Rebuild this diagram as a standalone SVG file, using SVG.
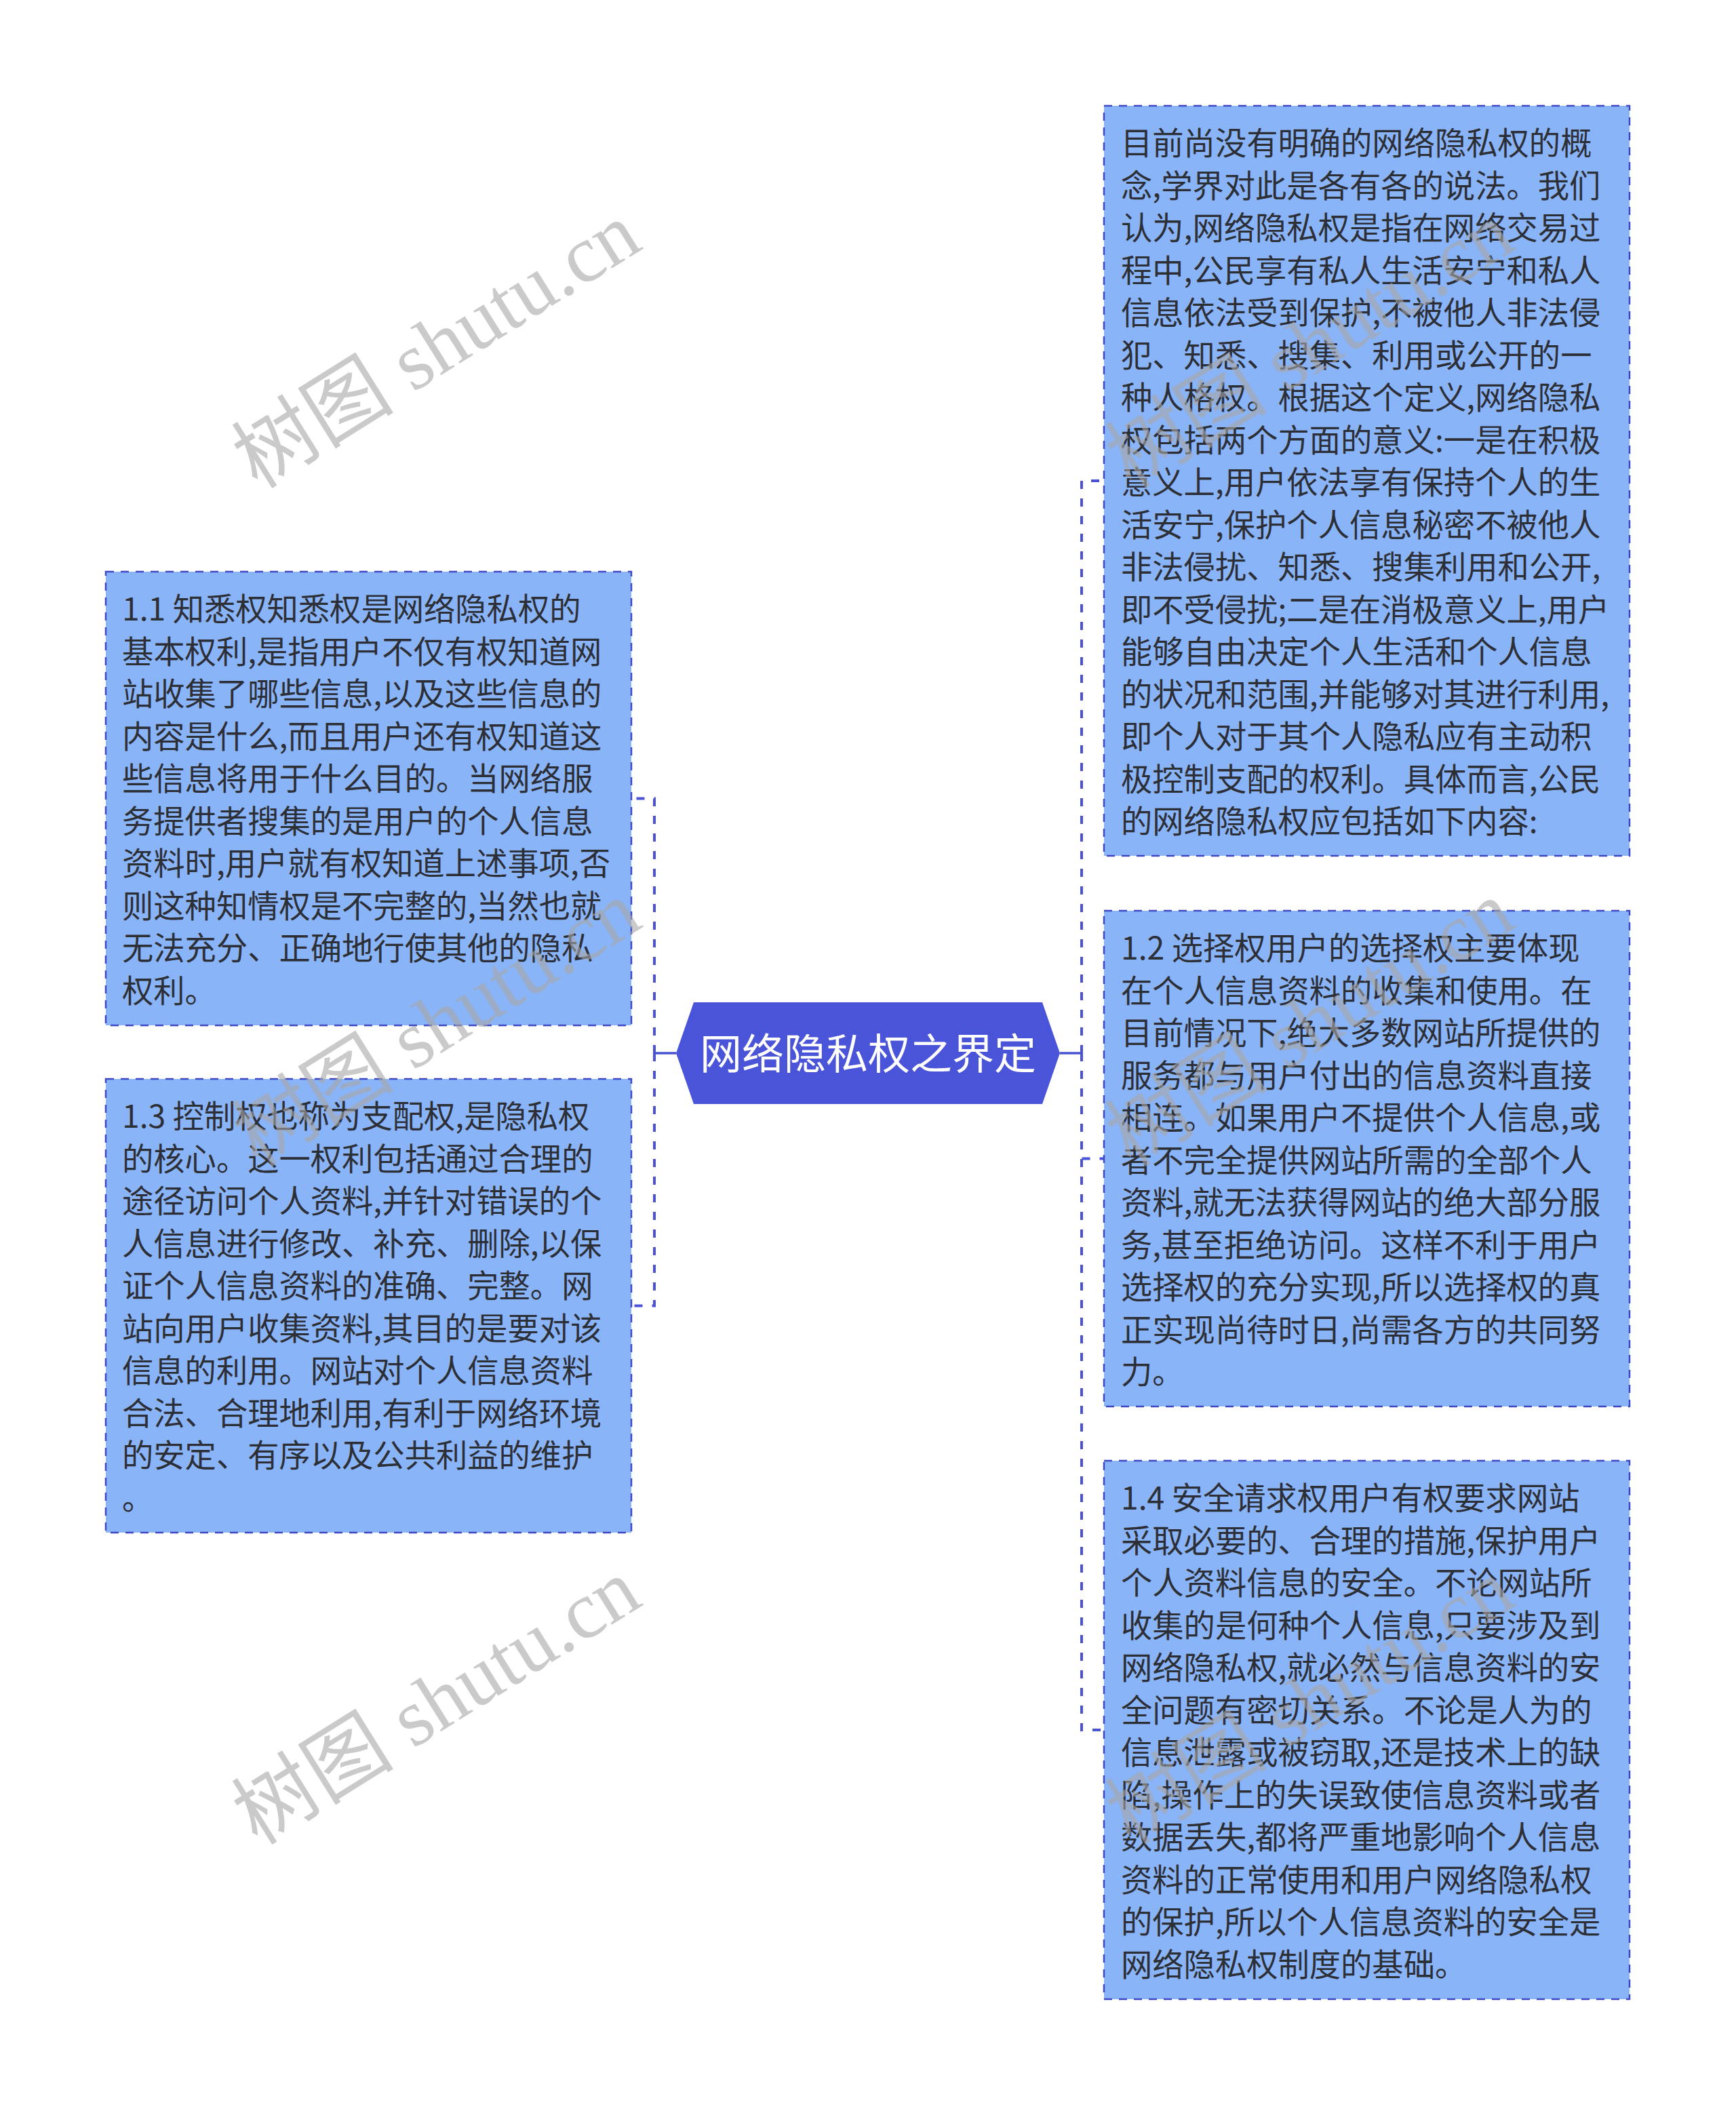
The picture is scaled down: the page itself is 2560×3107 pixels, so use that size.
<svg xmlns="http://www.w3.org/2000/svg" width="2560" height="3107" viewBox="0 0 2560 3107">
<style>
.box{fill:#8ab4f8;stroke:#3d48c2;stroke-width:2.5;stroke-dasharray:12 10}
.txt{font-family:"Noto Sans CJK SC","Noto Sans",sans-serif;font-size:46.3px;fill:#2d2f36}
.conn{fill:none;stroke:#4a52d6;stroke-width:4;stroke-dasharray:12 14}
.stub{fill:none;stroke:#4a52d6;stroke-width:3.5}
.center{fill:#4a54d8}
.ctxt{font-family:"Noto Sans CJK SC","Noto Sans",sans-serif;font-size:62px;fill:#ffffff}
.wm{font-family:"Liberation Serif","Noto Sans CJK SC",serif;font-size:120px;fill:#a8a8a8;opacity:0.6}
</style>
<rect x="0" y="0" width="2560" height="3107" fill="#ffffff"/>
<g id="connectors">
<path class="stub" d="M997,1553 H965"/>
<path class="stub" d="M1563,1553 H1595"/>
<path class="conn" d="M965,1553 V1177.5 H931"/>
<path class="conn" d="M965,1553 V1925.5 H931"/>
<path class="conn" d="M1595,1553 V709 H1628"/>
<path class="conn" d="M1595,1553 V1708.5 H1628"/>
<path class="conn" d="M1595,1553 V2551 H1628"/>
</g>
<g id="node-center">
<polygon class="center" points="1023,1478 1537,1478 1563,1553 1537,1628 1023,1628 997,1553"/>
<text class="ctxt" x="1280" y="1577" text-anchor="middle">网络隐私权之界定</text>
</g>
<g id="node-definition">
<rect class="box" x="1628" y="156" width="775" height="1106"/>
<text class="txt" x="1653" y="228">
<tspan x="1653" y="228">目前尚没有明确的网络隐私权的概</tspan>
<tspan x="1653" y="290.5">念,学界对此是各有各的说法。我们</tspan>
<tspan x="1653" y="353">认为,网络隐私权是指在网络交易过</tspan>
<tspan x="1653" y="415.5">程中,公民享有私人生活安宁和私人</tspan>
<tspan x="1653" y="478">信息依法受到保护,不被他人非法侵</tspan>
<tspan x="1653" y="540.5">犯、知悉、搜集、利用或公开的一</tspan>
<tspan x="1653" y="603">种人格权。根据这个定义,网络隐私</tspan>
<tspan x="1653" y="665.5">权包括两个方面的意义:一是在积极</tspan>
<tspan x="1653" y="728">意义上,用户依法享有保持个人的生</tspan>
<tspan x="1653" y="790.5">活安宁,保护个人信息秘密不被他人</tspan>
<tspan x="1653" y="853">非法侵扰、知悉、搜集利用和公开,</tspan>
<tspan x="1653" y="915.5">即不受侵扰;二是在消极意义上,用户</tspan>
<tspan x="1653" y="978">能够自由决定个人生活和个人信息</tspan>
<tspan x="1653" y="1040.5">的状况和范围,并能够对其进行利用,</tspan>
<tspan x="1653" y="1103">即个人对于其个人隐私应有主动积</tspan>
<tspan x="1653" y="1165.5">极控制支配的权利。具体而言,公民</tspan>
<tspan x="1653" y="1228">的网络隐私权应包括如下内容:</tspan>
</text>
</g>
<g id="node-1-2">
<rect class="box" x="1628" y="1343" width="775" height="731"/>
<text class="txt" x="1653" y="1415">
<tspan x="1653" y="1415">1.2 选择权用户的选择权主要体现</tspan>
<tspan x="1653" y="1477.5">在个人信息资料的收集和使用。在</tspan>
<tspan x="1653" y="1540">目前情况下,绝大多数网站所提供的</tspan>
<tspan x="1653" y="1602.5">服务都与用户付出的信息资料直接</tspan>
<tspan x="1653" y="1665">相连。如果用户不提供个人信息,或</tspan>
<tspan x="1653" y="1727.5">者不完全提供网站所需的全部个人</tspan>
<tspan x="1653" y="1790">资料,就无法获得网站的绝大部分服</tspan>
<tspan x="1653" y="1852.5">务,甚至拒绝访问。这样不利于用户</tspan>
<tspan x="1653" y="1915">选择权的充分实现,所以选择权的真</tspan>
<tspan x="1653" y="1977.5">正实现尚待时日,尚需各方的共同努</tspan>
<tspan x="1653" y="2040">力。</tspan>
</text>
</g>
<g id="node-1-4">
<rect class="box" x="1628" y="2154" width="775" height="794"/>
<text class="txt" x="1653" y="2226">
<tspan x="1653" y="2226">1.4 安全请求权用户有权要求网站</tspan>
<tspan x="1653" y="2288.5">采取必要的、合理的措施,保护用户</tspan>
<tspan x="1653" y="2351">个人资料信息的安全。不论网站所</tspan>
<tspan x="1653" y="2413.5">收集的是何种个人信息,只要涉及到</tspan>
<tspan x="1653" y="2476">网络隐私权,就必然与信息资料的安</tspan>
<tspan x="1653" y="2538.5">全问题有密切关系。不论是人为的</tspan>
<tspan x="1653" y="2601">信息泄露或被窃取,还是技术上的缺</tspan>
<tspan x="1653" y="2663.5">陷,操作上的失误致使信息资料或者</tspan>
<tspan x="1653" y="2726">数据丢失,都将严重地影响个人信息</tspan>
<tspan x="1653" y="2788.5">资料的正常使用和用户网络隐私权</tspan>
<tspan x="1653" y="2851">的保护,所以个人信息资料的安全是</tspan>
<tspan x="1653" y="2913.5">网络隐私权制度的基础。</tspan>
</text>
</g>
<g id="node-1-1">
<rect class="box" x="156" y="843" width="775" height="669"/>
<text class="txt" x="180" y="915">
<tspan x="180" y="915">1.1 知悉权知悉权是网络隐私权的</tspan>
<tspan x="180" y="977.5">基本权利,是指用户不仅有权知道网</tspan>
<tspan x="180" y="1040">站收集了哪些信息,以及这些信息的</tspan>
<tspan x="180" y="1102.5">内容是什么,而且用户还有权知道这</tspan>
<tspan x="180" y="1165">些信息将用于什么目的。当网络服</tspan>
<tspan x="180" y="1227.5">务提供者搜集的是用户的个人信息</tspan>
<tspan x="180" y="1290">资料时,用户就有权知道上述事项,否</tspan>
<tspan x="180" y="1352.5">则这种知情权是不完整的,当然也就</tspan>
<tspan x="180" y="1415">无法充分、正确地行使其他的隐私</tspan>
<tspan x="180" y="1477.5">权利。</tspan>
</text>
</g>
<g id="node-1-3">
<rect class="box" x="156" y="1591" width="775" height="669"/>
<text class="txt" x="180" y="1663">
<tspan x="180" y="1663">1.3 控制权也称为支配权,是隐私权</tspan>
<tspan x="180" y="1725.5">的核心。这一权利包括通过合理的</tspan>
<tspan x="180" y="1788">途径访问个人资料,并针对错误的个</tspan>
<tspan x="180" y="1850.5">人信息进行修改、补充、删除,以保</tspan>
<tspan x="180" y="1913">证个人信息资料的准确、完整。网</tspan>
<tspan x="180" y="1975.5">站向用户收集资料,其目的是要对该</tspan>
<tspan x="180" y="2038">信息的利用。网站对个人信息资料</tspan>
<tspan x="180" y="2100.5">合法、合理地利用,有利于网络环境</tspan>
<tspan x="180" y="2163">的安定、有序以及公共利益的维护</tspan>
<tspan x="180" y="2225.5">。</tspan>
</text>
</g>
<g id="watermarks">
<text class="wm" transform="translate(644,510) rotate(-32)" x="0" y="40" text-anchor="middle">树图 shutu.cn</text>
<text class="wm" transform="translate(644,1510) rotate(-32)" x="0" y="40" text-anchor="middle">树图 shutu.cn</text>
<text class="wm" transform="translate(644,2510) rotate(-32)" x="0" y="40" text-anchor="middle">树图 shutu.cn</text>
<text class="wm" transform="translate(1932,510) rotate(-32)" x="0" y="40" text-anchor="middle">树图 shutu.cn</text>
<text class="wm" transform="translate(1932,1510) rotate(-32)" x="0" y="40" text-anchor="middle">树图 shutu.cn</text>
<text class="wm" transform="translate(1932,2510) rotate(-32)" x="0" y="40" text-anchor="middle">树图 shutu.cn</text>
</g>
</svg>
